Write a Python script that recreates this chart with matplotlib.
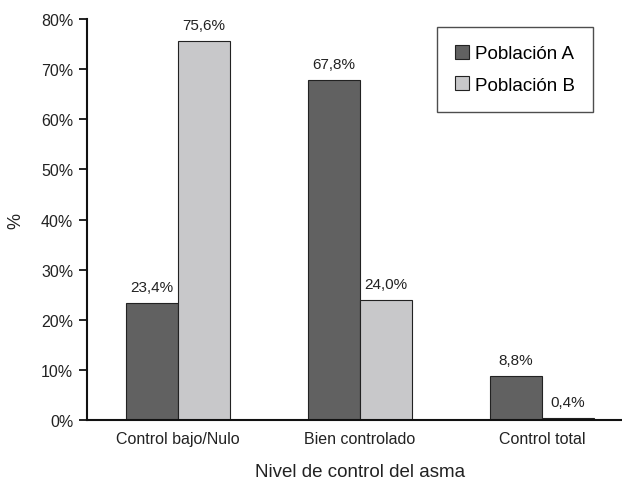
import matplotlib.pyplot as plt
import numpy as np

categorias = ['Control bajo/Nulo', 'Bien controlado', 'Control total']
poblacion_a = [23.4, 67.8, 8.8]
poblacion_b = [75.6, 24.0, 0.4]
yticks = [0, 10, 20, 30, 40, 50, 60, 70, 80]

plt.rcParams['font.family'] = ['Liberation Sans', 'DejaVu Sans']

fig = plt.figure(figsize=(6.22, 4.81), dpi=100)
ax = fig.add_axes([0.14, 0.1247, 0.86, 0.8337])

x = np.arange(len(categorias))
w = 0.287
ba = ax.bar(x - w / 2, poblacion_a, w, color='#616161', edgecolor='#222222', linewidth=0.8, label='Población A')
bb = ax.bar(x + w / 2, poblacion_b, w, color='#c8c8ca', edgecolor='#222222', linewidth=0.8, label='Población B')

for bars in (ba, bb):
    for b in bars:
        h = b.get_height()
        ax.text(b.get_x() + b.get_width() / 2, h + 1.8, f'{h:.1f}%'.replace('.', ','),
                ha='center', va='bottom', fontsize=11, color='#222222')

ax.set_xlim(-0.5, 2.44)
ax.set_ylim(0, 80)
ax.set_yticks(yticks)
ax.set_yticklabels([f'{v}%' for v in yticks], fontsize=11.5, color='#222222')
ax.set_xticks(x)
ax.set_xticklabels(categorias, fontsize=11.5, color='#222222')
ax.tick_params(axis='x', length=0, pad=8)
ax.tick_params(axis='y', length=6, width=1.2, pad=4)
for s in ('top', 'right'):
    ax.spines[s].set_visible(False)
for s in ('left', 'bottom'):
    ax.spines[s].set_linewidth(1.5)
    ax.spines[s].set_color('#111111')

ax.set_ylabel('%', fontsize=13, labelpad=12, color='#222222')
# x-axis title sits close to the bottom edge, as in the original
fig.text(0.579, 0.008, 'Nivel de control del asma', fontsize=13.5, color='#222222',
         ha='center', va='baseline')

leg = ax.legend(loc='upper right', bbox_to_anchor=(0.946, 0.980), fontsize=13.5, frameon=True,
                fancybox=False, edgecolor='#222222', borderpad=0.95, labelspacing=0.75,
                handlelength=0.75, handleheight=0.75, handletextpad=0.35, borderaxespad=0)
leg.get_frame().set_linewidth(1.0)

fig.savefig('out.png', dpi=100)
